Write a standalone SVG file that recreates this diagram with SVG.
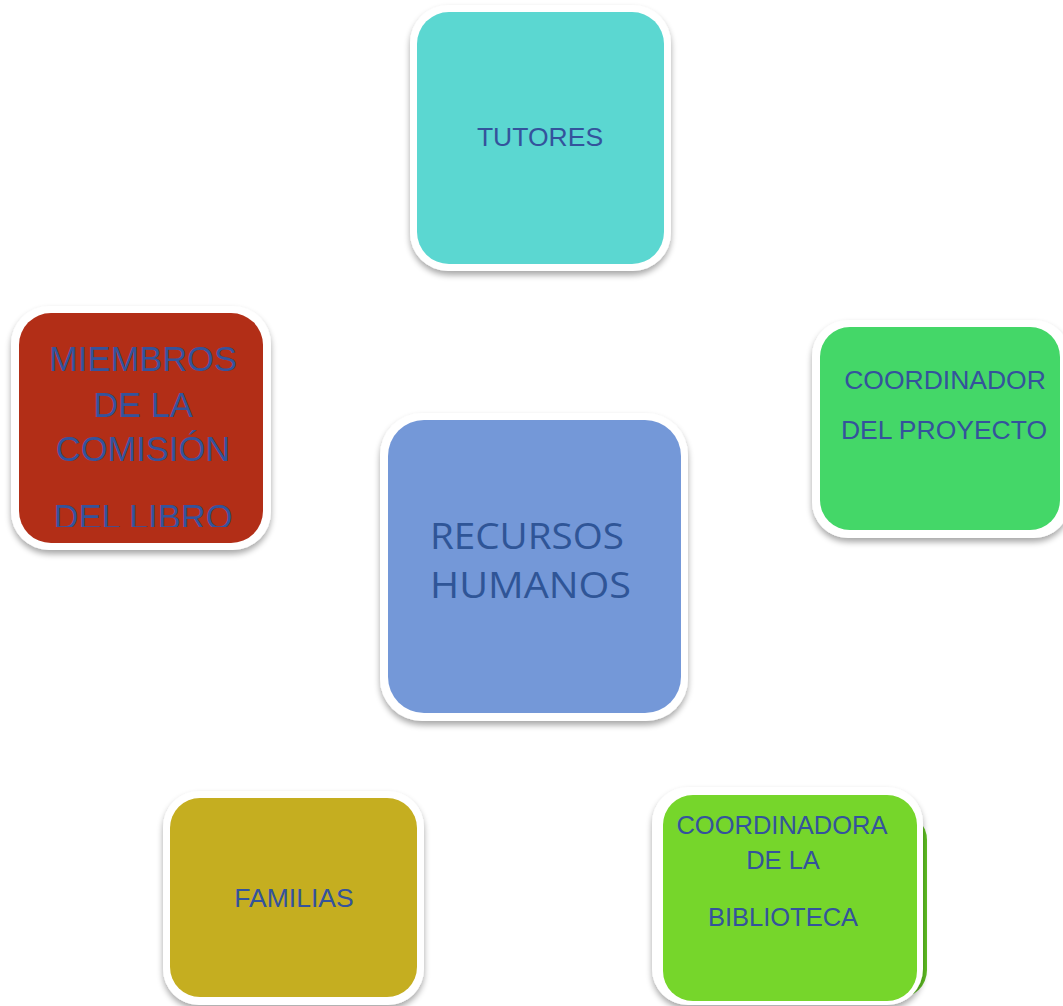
<svg xmlns="http://www.w3.org/2000/svg" width="1063" height="1006" viewBox="0 0 1063 1006">
<style>
.frame{fill:#ffffff;filter:url(#sh)}
.t{font-family:"Liberation Sans",Arial,sans-serif;fill:#34539c;text-anchor:middle}
.tc{font-family:"Open Sans","Noto Sans",sans-serif;fill:#2f5597;}
</style>
<defs>
<filter id="sh" x="-10%" y="-10%" width="120%" height="125%">
<feGaussianBlur in="SourceAlpha" stdDeviation="3"/>
<feOffset dx="0" dy="4" result="b"/>
<feComponentTransfer><feFuncA type="linear" slope="0.35"/></feComponentTransfer>
<feMerge><feMergeNode/><feMergeNode in="SourceGraphic"/></feMerge>
</filter>
<clipPath id="clipM"><rect x="19" y="313" width="244" height="214"/></clipPath>
</defs>
<rect width="1063" height="1006" fill="#ffffff"/>
<g id="connectors">
<line x1="537.5" y1="413" x2="537.5" y2="419" stroke="#c0392b" stroke-width="1.5"/>
<line x1="385.5" y1="510" x2="385.5" y2="516" stroke="#c0392b" stroke-width="1.5"/>
</g>
<g id="tutores">
<rect class="frame" x="410" y="5" width="261" height="266" rx="38"/>
<rect x="417" y="12" width="247" height="252" rx="32" fill="#5bd7d1"/>
<text class="t" x="540" y="146" font-size="26.5">TUTORES</text>
</g>
<g id="miembros">
<rect class="frame" x="11" y="306" width="260" height="244" rx="38"/>
<rect x="19" y="313" width="244" height="230" rx="32" fill="#b22e17"/>
<g clip-path="url(#clipM)">
<text class="t" x="143" y="371" font-size="34.5">MIEMBROS</text>
<text class="t" x="143" y="417" font-size="34.5">DE LA</text>
<text class="t" x="143" y="461" font-size="34.5">COMISIÓN</text>
<text class="t" x="143" y="529" font-size="34.5">DEL LIBRO</text>
</g>
</g>
<g id="coordinador">
<rect class="frame" x="812" y="320" width="258" height="218" rx="36"/>
<rect x="820" y="327" width="240" height="203" rx="30" fill="#44d768"/>
<text class="t" x="945" y="389" font-size="26.5">COORDINADOR</text>
<text class="t" x="944" y="439" font-size="26.5">DEL PROYECTO</text>
</g>
<g id="recursos">
<rect class="frame" x="380" y="413" width="308" height="308" rx="42"/>
<rect x="388" y="420" width="293" height="293" rx="36" fill="#7498d8"/>
<text class="tc" x="430" y="549" font-size="37" textLength="194" lengthAdjust="spacingAndGlyphs">RECURSOS</text>
<text class="tc" x="430" y="598" font-size="37" textLength="201" lengthAdjust="spacingAndGlyphs">HUMANOS</text>
</g>
<g id="familias">
<rect class="frame" x="163" y="791" width="261" height="214" rx="36"/>
<rect x="170" y="798" width="247" height="199" rx="30" fill="#c5ae20"/>
<text class="t" x="294" y="907" font-size="26.5">FAMILIAS</text>
</g>
<g id="coordinadora">
<rect x="700" y="812" width="227" height="186" rx="28" fill="#5fbf22"/>
<rect class="frame" x="652" y="787" width="271" height="218" rx="36"/>
<rect x="663" y="795" width="254" height="206" rx="30" fill="#76d62b"/>
<text class="t" x="782" y="834" font-size="25.5">COORDINADORA</text>
<text class="t" x="783" y="869" font-size="25.5">DE LA</text>
<text class="t" x="783" y="926" font-size="25.5">BIBLIOTECA</text>
</g>
</svg>
